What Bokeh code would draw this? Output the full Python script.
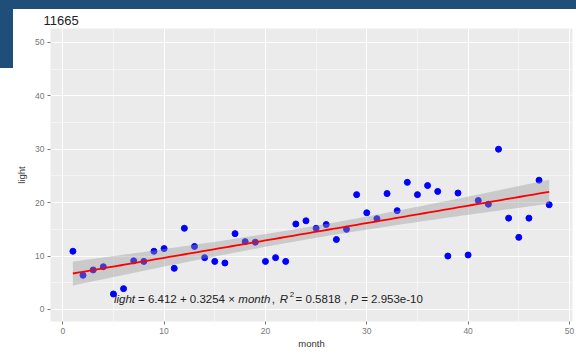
import numpy as np
from bokeh.plotting import figure
from bokeh.models import FixedTicker, Label, Range1d
from bokeh.embed import file_html
from bokeh.resources import INLINE

# ---- data ----
title_text = "11665"
month = [1, 2, 3, 4, 5, 6, 7, 8, 9, 10, 11, 12, 13, 14, 15, 16,
         17, 18, 19, 20, 21, 22, 23, 24, 25, 26, 27, 28, 29, 30, 31, 32,
         33, 34, 35, 36, 37, 38, 39, 40, 41, 42, 43, 44, 45, 46, 47, 48]
light = [10.9, 6.4, 7.4, 8.0, 2.9, 3.9, 9.1, 9.0, 10.9, 11.4, 7.7, 15.2,
         11.8, 9.7, 9.0, 8.7, 14.2, 12.7, 12.6, 9.0, 9.7, 9.0, 16.0, 16.6,
         15.2, 15.9, 13.1, 15.0, 21.5, 18.1, 17.0, 21.7, 18.5, 23.8, 21.5, 23.2,
         22.1, 10.0, 21.8, 10.2, 20.4, 19.7, 30.0, 17.1, 13.5, 17.1, 24.2, 19.6]
intercept = 6.412
slope = 0.3254
r2_text = "0.5818"
p_text = "2.953e-10"
x_ticks = [0, 10, 20, 30, 40, 50]
x_minor = [5, 15, 25, 35, 45]
y_ticks = [0, 10, 20, 30, 40, 50]
y_minor = [5, 15, 25, 35, 45]
t_crit = 2.0129  # t(0.975, df=46)

# ---- fit band ----
x = np.array(month, dtype=float)
y = np.array(light, dtype=float)
n = len(x)
resid = y - (intercept + slope * x)
s = np.sqrt(np.sum(resid ** 2) / (n - 2))
xbar = x.mean()
sxx = np.sum((x - xbar) ** 2)
xs = np.linspace(x.min(), x.max(), 100)
fit = intercept + slope * xs
se = s * np.sqrt(1.0 / n + (xs - xbar) ** 2 / sxx)
lo = fit - t_crit * se
hi = fit + t_crit * se

BLUE = "#1F4E79"
bg = (f"linear-gradient({BLUE},{BLUE}) 0 0/576px 9px no-repeat, "
      f"linear-gradient({BLUE},{BLUE}) 0 0/13px 68px no-repeat, white")

p = figure(width=576, height=354, output_backend="svg", toolbar_location=None,
           x_range=Range1d(-1.21, 50.30), y_range=Range1d(-2.25, 52.6),
           min_border_left=50, min_border_right=4, min_border_top=28,
           min_border_bottom=33,
           background_fill_color="#EBEBEB", border_fill_color=None,
           outline_line_color=None, styles={"background": bg})

p.title.text = title_text
p.title.align = "left"
p.title.offset = -7
p.title.standoff = 7
p.title.text_font = "Liberation Sans"
p.title.text_font_size = "13px"
p.title.text_font_style = "normal"
p.title.text_color = "#222222"

for ax in (p.xaxis, p.yaxis):
    ax.axis_line_color = None
    ax.major_tick_line_color = "#777777"
    ax.major_tick_in = 0
    ax.major_tick_out = 3
    ax.minor_tick_line_color = None
    ax.major_label_text_font = "Liberation Sans"
    ax.major_label_text_font_size = "8.5px"
    ax.major_label_text_color = "#777777"
    ax.axis_label_text_font = "Liberation Sans"
    ax.axis_label_text_font_size = "9.5px"
    ax.axis_label_text_font_style = "normal"
    ax.axis_label_text_color = "#333333"

p.xaxis.ticker = FixedTicker(ticks=x_ticks, minor_ticks=x_minor)
p.yaxis.ticker = FixedTicker(ticks=y_ticks, minor_ticks=y_minor)
p.xaxis.axis_label = "month"
p.yaxis.axis_label = "light"
p.xaxis.major_label_standoff = 2
p.xaxis.axis_label_standoff = 1
p.yaxis.major_label_standoff = 2
p.yaxis.axis_label_standoff = 5

for g in (p.xgrid, p.ygrid):
    g.grid_line_color = "white"
    g.grid_line_width = 1.1
    g.minor_grid_line_color = "white"
    g.minor_grid_line_width = 0.5

# points first, then smoother on top (ggplot layer order)
p.scatter(month, light, size=6, color="blue", line_color="blue")
p.varea(x=xs, y1=lo, y2=hi, fill_color="#999999", fill_alpha=0.4)
p.line(xs, fit, line_color="red", line_width=1.8)

# equation annotation built from pieces (italic variables)
W = {' ': 278, '=': 584, '.': 278, '+': 584, '×': 584, ',': 278, 'e': 556,
     '-': 333, 'l': 222, 'i': 222, 'g': 556, 'h': 556, 't': 278, 'm': 833,
     'o': 556, 'n': 556, 'R': 722, 'P': 667}
for d in "0123456789":
    W[d] = 556


def tw(txt, fs):
    return sum(W.get(c, 556) for c in txt) * fs / 1000.0


fs = 11.5
pieces = [
    ("light", "italic", fs, 0),
    (f" = {intercept} + {slope} × ", "normal", fs, 0),
    ("month", "italic", fs, 0),
    (" , ", "normal", fs, 0),
    ("R", "italic", fs, 0),
    ("2", "normal", 8.0, 4),
    (f" = {r2_text} , ", "normal", fs, 0),
    ("P", "italic", fs, 0),
    (f" = {p_text}", "normal", fs, 0),
]
xoff = 0.0
for txt, style, size, yo in pieces:
    if style == "italic":
        shift = -1.5
    elif txt.startswith(" ="):
        shift = 1.5
    else:
        shift = 0.0
    p.add_layout(Label(x=5.2, y=2.0, x_offset=xoff + shift, y_offset=yo, text=txt,
                       text_font="Liberation Sans", text_font_size=f"{size}px",
                       text_font_style=style, text_color="#222222",
                       text_baseline="alphabetic", text_align="left"))
    xoff += tw(txt, size)

open("out.html", "w").write(file_html(p, INLINE))
